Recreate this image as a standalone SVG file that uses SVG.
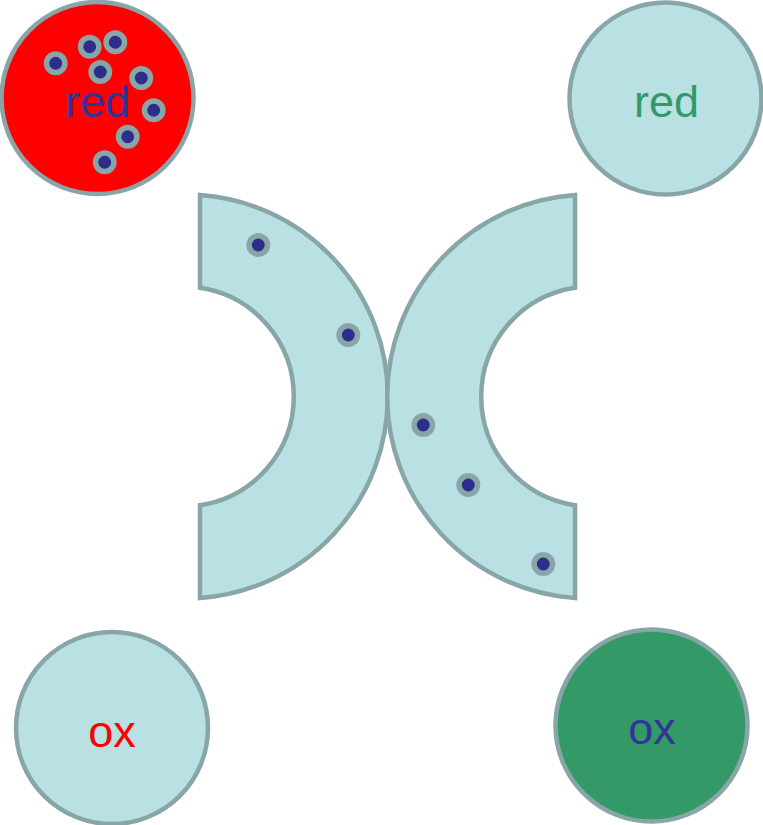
<svg xmlns="http://www.w3.org/2000/svg" width="763" height="825" viewBox="0 0 763 825">
  <style>
    .node { stroke: #88a6a8; stroke-width: 4.5; }
    .pale { fill: #b9e0e3; }
    .label { font-family: "Liberation Sans", Arial, sans-serif; font-size: 45px; text-anchor: middle; }
    .dot { fill: #2d2d8c; stroke: #88a6a8; stroke-width: 5.5; }
  </style>
  <defs>
    <circle id="electron" r="9.2" class="dot"/>
  </defs>
  <rect width="763" height="825" fill="#ffffff"/>

  <!-- reduced form, donor side -->
  <g id="red-donor">
    <circle cx="97.5" cy="98" r="96" class="node" fill="#ff0000"/>
    <text x="97.5" y="117" class="label" fill="#333399">red</text>
    <use href="#electron" x="55.7" y="63.3"/>
    <use href="#electron" x="89.7" y="46.7"/>
    <use href="#electron" x="115.3" y="42.3"/>
    <use href="#electron" x="100.3" y="72"/>
    <use href="#electron" x="141.3" y="78"/>
    <use href="#electron" x="153.7" y="110.3"/>
    <use href="#electron" x="127.7" y="136.7"/>
    <use href="#electron" x="104.7" y="162.3"/>
  </g>

  <!-- reduced form, acceptor side -->
  <g id="red-acceptor">
    <circle cx="665.5" cy="98.5" r="96" class="node pale"/>
    <text x="666.5" y="117" class="label" fill="#339966">red</text>
  </g>

  <!-- left half-ring -->
  <g id="left-ring">
    <path class="node pale" d="M200 195 A202 202 0 0 1 200 598 L200 505.3 A110 110 0 0 0 200 287.7 Z"/>
    <use href="#electron" x="258.3" y="245"/>
    <use href="#electron" x="348.3" y="335"/>
  </g>

  <!-- right half-ring -->
  <g id="right-ring">
    <path class="node pale" d="M575 195 A202 202 0 0 0 575 598 L575 505.3 A110 110 0 0 1 575 287.7 Z"/>
    <use href="#electron" x="423.3" y="425"/>
    <use href="#electron" x="468.3" y="485"/>
    <use href="#electron" x="543.3" y="564"/>
  </g>

  <!-- oxidised form, donor side -->
  <g id="ox-donor">
    <circle cx="112" cy="728" r="96" class="node pale"/>
    <text x="112" y="747" class="label" fill="#ff0000">ox</text>
  </g>

  <!-- oxidised form, acceptor side -->
  <g id="ox-acceptor">
    <circle cx="651.5" cy="725.5" r="96" class="node" fill="#339966"/>
    <text x="652" y="744" class="label" fill="#333399">ox</text>
  </g>

  <g id="connectors"/>
</svg>
